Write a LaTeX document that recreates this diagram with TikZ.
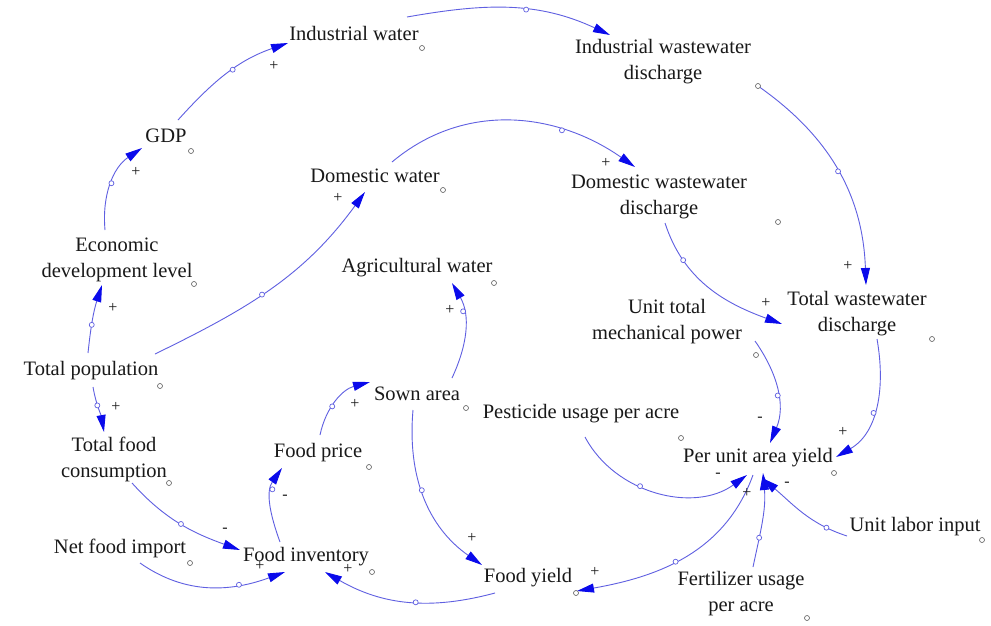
\documentclass[tikz,border=0pt]{standalone}
\usepackage{fontspec}
\setmainfont{Liberation Serif}
\usetikzlibrary{arrows.meta}
\definecolor{linkc}{RGB}{95,95,225}
\definecolor{tipc}{RGB}{10,10,235}
\definecolor{txt}{RGB}{25,25,25}
\definecolor{mk}{RGB}{90,90,90}
\begin{document}
\begin{tikzpicture}[x=1pt,y=1pt,
  var/.style={font=\fontsize{20.5}{26}\selectfont, text=txt, inner sep=0pt, align=center},
  link/.style={draw=linkc, line width=0.9pt, -{Triangle[length=17pt,width=9pt,color=tipc]}},
  midc/.style={circle, draw=linkc, fill=white, line width=0.7pt, minimum size=5pt, inner sep=0pt},
  varc/.style={circle, draw=mk, fill=white, line width=0.6pt, minimum size=5pt, inner sep=0pt},
  pol/.style={font=\fontsize{16}{16}\selectfont, text=txt, inner sep=0pt}
]
\fill[white] (0,0) rectangle (991,-625);
\useasboundingbox (0,0) rectangle (991,-625);

% ---------- variables ----------
\node[var] (indw)   at (354,-33)  {Industrial water};
\node[var] (gdp)    at (166,-136) {GDP};
\node[var] (domw)   at (375,-176) {Domestic water};
\node[var] (econ)   at (117,-260) {Economic\\development level};
\node[var] (agw)    at (417,-268) {Agricultural water};
\node[var] (indww)  at (663,-62)  {Industrial wastewater\\discharge};
\node[var] (domww)  at (659,-197) {Domestic wastewater\\discharge};
\node[var] (totww)  at (857,-314) {Total wastewater\\discharge};
\node[var] (pop)    at (91,-371)  {Total population};
\node[var] (tfc)    at (114,-459) {Total food\\consumption};
\node[var] (nfi)    at (120,-548) {Net food import};
\node[var] (finv)   at (306,-557) {Food inventory};
\node[var] (fprice) at (318,-453) {Food price};
\node[var] (sown)   at (417,-394) {Sown area};
\node[var] (mech)   at (667,-322) {Unit total\\mechanical power};
\node[var] (pest)   at (581,-414) {Pesticide usage per acre};
\node[var] (puay)   at (758,-458) {Per unit area yield};
\node[var] (fyield) at (528,-578) {Food yield};
\node[var] (labor)  at (915,-527) {Unit labor input};
\node[var] (fert)   at (741,-594) {Fertilizer usage\\per acre};

% ---------- variable markers ----------
\node[varc] (m1)  at (422,-48)  {};
\node[varc] (m2)  at (191,-151) {};
\node[varc] (m3)  at (443,-190) {};
\node[varc] (m4)  at (194,-284) {};
\node[varc] (m5)  at (494,-283) {};
\node[varc] (m6)  at (778,-222) {};
\node[varc] (m7)  at (932,-339) {};
\node[varc] (m8)  at (160,-386) {};
\node[varc] (m9)  at (169,-483) {};
\node[varc] (m10) at (190,-563) {};
\node[varc] (m11) at (372,-572) {};
\node[varc] (m12) at (369,-467) {};
\node[varc] (m13) at (466,-408) {};
\node[varc] (m14) at (756,-355) {};
\node[varc] (m15) at (681,-438) {};
\node[varc] (m16) at (834,-473) {};
\node[varc] (m17) at (982,-540) {};
\node[varc] (m18) at (807,-618) {};

% ---------- connector end points ----------
\coordinate (s1) at (88,-353);   \coordinate (e1) at (102,-285);
\coordinate (s2) at (105,-230);  \coordinate (e2) at (142,-148);
\coordinate (s3) at (178,-120);  \coordinate (e3) at (288,-43);
\coordinate (s4) at (407,-17);   \coordinate (e4) at (610,-35);
\coordinate (s5) at (758,-86);   \coordinate (e5) at (866,-285);
\coordinate (s6) at (155,-354);  \coordinate (e6) at (365,-192);
\coordinate (s7) at (392,-162);  \coordinate (e7) at (635,-167);
\coordinate (s8) at (665,-223);  \coordinate (e8) at (782,-324);
\coordinate (s9) at (877,-339);  \coordinate (e9) at (836,-457);
\coordinate (s10) at (755,-341); \coordinate (e10) at (770,-443);
\coordinate (s11) at (585,-437); \coordinate (e11) at (747,-475);
\coordinate (s12) at (753,-475); \coordinate (e12) at (577,-591);
\coordinate (s13) at (753,-567); \coordinate (e13) at (763,-473);
\coordinate (s14) at (847,-536); \coordinate (e14) at (762,-478);
\coordinate (s15) at (93,-387);  \coordinate (e15) at (104,-432);
\coordinate (s16) at (132,-483); \coordinate (e16) at (240,-550);
\coordinate (s17) at (140,-563); \coordinate (e17) at (285,-572);
\coordinate (s18) at (495,-593); \coordinate (e18) at (325,-572);
\coordinate (s19) at (280,-542); \coordinate (e19) at (282,-468);
\coordinate (s20) at (320,-435); \coordinate (e20) at (370,-382);
\coordinate (s21) at (452,-378); \coordinate (e21) at (452,-283);
\coordinate (s22) at (413,-410); \coordinate (e22) at (482,-565);

% ---------- connectors ----------
\draw[link] (s1)  to[out=84,in=252]  node[pos=.4,midc]{}  (e1);
\draw[link] (s2)  to[out=95,in=214]  node[pos=.5,midc]{}  (e2);
\draw[link] (s3)  to[out=48,in=199]  node[pos=.55,midc]{} (e3);
\draw[link] (s4)  to[out=10,in=155]  node[pos=.58,midc]{} (e4);
\draw[link] (s5)  to[out=-35,in=92]  node[pos=.5,midc]{}  (e5);
\draw[link] (s6)  to[out=26,in=234]  node[pos=.45,midc]{} (e6);
\draw[link] (s7)  to[out=40,in=145]  node[pos=.7,midc]{}  (e7);
\draw[link] (s8)  to[out=-72,in=160] node[pos=.25,midc]{} (e8);
\draw[link] (s9)  to[out=-80,in=30]  node[pos=.55,midc]{} (e9);
\draw[link] (s10) to[out=-55,in=67]  node[pos=.55,midc]{} (e10);
\draw[link] (s11) to[out=-62,in=216] node[pos=.4,midc]{}  (e11);
\draw[link] (s12) to[out=-110,in=10] node[pos=.55,midc]{} (e12);
\draw[link] (s13) to[out=78,in=275]  node[pos=.3,midc]{}  (e13);
\draw[link] (s14) to[out=162,in=-40] node[pos=.2,midc]{}  (e14);
\draw[link] (s15) to[out=-80,in=100] node[pos=.4,midc]{}  (e15);
\draw[link] (s16) to[out=-48,in=160] node[pos=.5,midc]{}  (e16);
\draw[link] (s17) to[out=-35,in=200] node[pos=.7,midc]{}  (e17);
\draw[link] (s18) to[out=195,in=-30] node[pos=.45,midc]{} (e18);
\draw[link] (s19) to[out=110,in=235] node[pos=.7,midc]{}  (e19);
\draw[link] (s20) to[out=78,in=195]  node[pos=.4,midc]{}  (e20);
\draw[link] (s21) to[out=65,in=-60]  node[pos=.7,midc]{}  (e21);
\draw[link] (s22) to[out=-95,in=145] node[pos=.45,midc]{} (e22);
\node[varc] (m19) at (758,-86)  {};
\node[varc] (m20) at (576,-593) {};

% ---------- polarities ----------
\node[pol] (p1)  at (113,-308) {+};
\node[pol] (p2)  at (136,-172) {+};
\node[pol] (p3)  at (274,-66)  {+};
\node[pol] (p4)  at (338,-198) {+};
\node[pol] (p5)  at (606,-163) {+};
\node[pol] (p6)  at (848,-266) {+};
\node[pol] (p7)  at (766,-303) {+};
\node[pol] (p8)  at (116,-407) {+};
\node[pol] (p9)  at (225,-530) {-};
\node[pol] (p10) at (260,-566) {+};
\node[pol] (p11) at (348,-569) {+};
\node[pol] (p12) at (285,-497) {-};
\node[pol] (p13) at (355,-404) {+};
\node[pol] (p14) at (450,-310) {+};
\node[pol] (p15) at (472,-538) {+};
\node[pol] (p16) at (760,-419) {-};
\node[pol] (p17) at (843,-432) {+};
\node[pol] (p18) at (718,-475) {-};
\node[pol] (p19) at (747,-493) {+};
\node[pol] (p20) at (787,-484) {-};
\node[pol] (p21) at (595,-572) {+};
\end{tikzpicture}
\end{document}
